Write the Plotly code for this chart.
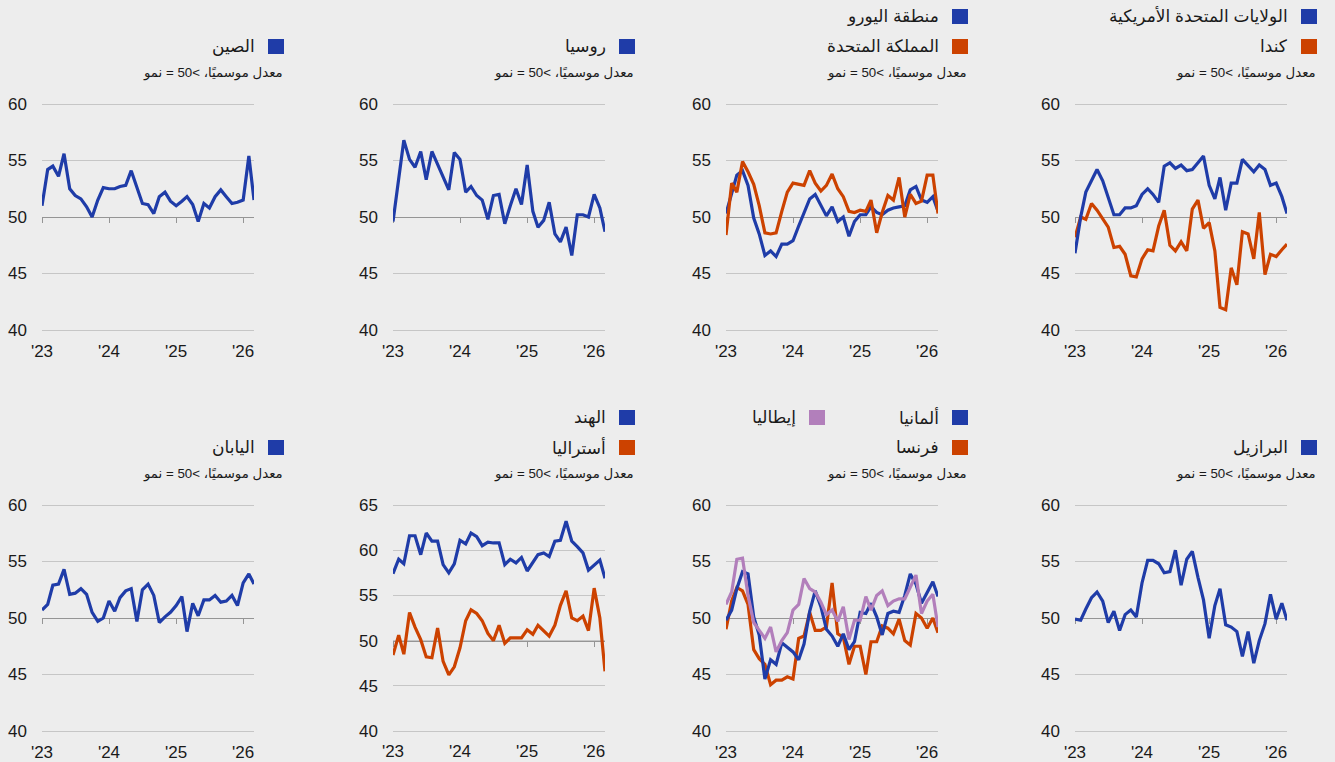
import plotly.graph_objects as go
import pandas as pd

# ---------------- data (monthly, Jan 2023 - Mar 2026) ----------------
months = pd.date_range("2023-01-01", "2026-03-01", freq="MS")
year_ticks = ["2023-01-01", "2024-01-01", "2025-01-01", "2026-01-01"]
year_labels = ["'23", "'24", "'25", "'26"]

us = [46.8, 50.0, 52.2, 53.2, 54.2, 53.2, 51.8, 50.2, 50.2, 50.8, 50.8, 51.0, 52.0,
      52.5, 52.0, 51.3, 54.5, 54.8, 54.3, 54.6, 54.1, 54.2, 54.8, 55.4, 52.8, 51.6,
      53.5, 50.6, 53.0, 53.0, 55.1, 54.6, 54.0, 54.6, 54.2, 52.8, 53.0, 51.8, 50.3]
canada = [48.2, 50.0, 49.8, 51.2, 50.6, 49.8, 49.1, 47.3, 47.4, 46.7, 44.8, 44.7, 46.3,
          47.1, 47.0, 49.2, 50.6, 47.5, 47.0, 47.8, 47.0, 50.7, 51.5, 49.0, 49.5, 47.0,
          42.0, 41.8, 45.5, 44.0, 48.7, 48.5, 46.3, 50.4, 44.9, 46.7, 46.5, 47.1, 47.6]
eurozone = [50.3, 52.0, 53.7, 54.1, 52.8, 49.9, 48.5, 46.6, 47.0, 46.5, 47.6, 47.6, 47.9,
            49.2, 50.3, 51.6, 52.0, 51.0, 50.1, 50.9, 49.6, 50.0, 48.3, 49.6, 50.2, 50.2,
            50.9, 50.4, 50.2, 50.6, 50.8, 50.9, 51.0, 52.4, 52.7, 51.5, 51.3, 51.8, 50.5]
uk = [48.4, 53.0, 52.2, 54.9, 54.0, 52.9, 51.0, 48.6, 48.5, 48.6, 50.5, 52.2, 53.0,
      52.9, 52.8, 54.1, 53.0, 52.3, 52.8, 53.8, 52.5, 51.8, 50.5, 50.4, 50.6, 50.5,
      51.5, 48.6, 50.4, 51.9, 51.5, 53.5, 50.0, 52.0, 51.2, 51.4, 53.7, 53.7, 50.3]
russia = [49.6, 53.2, 56.8, 55.1, 54.4, 55.8, 53.3, 55.8, 54.7, 53.6, 52.4, 55.7, 55.1,
          52.2, 52.7, 51.9, 51.5, 49.8, 51.9, 52.0, 49.4, 51.0, 52.5, 51.1, 54.6, 50.5,
          49.1, 49.7, 51.3, 48.5, 47.8, 49.1, 46.6, 50.2, 50.2, 50.0, 52.0, 50.8, 48.7]
china = [51.0, 54.2, 54.5, 53.6, 55.6, 52.5, 51.9, 51.6, 50.9, 50.0, 51.5, 52.6, 52.5,
         52.5, 52.7, 52.8, 54.1, 52.7, 51.2, 51.1, 50.3, 51.8, 52.2, 51.4, 51.0, 51.4,
         51.8, 51.1, 49.6, 51.2, 50.8, 51.8, 52.4, 51.8, 51.2, 51.3, 51.5, 55.4, 51.5]
brazil = [49.9, 49.8, 50.8, 51.8, 52.3, 51.5, 49.6, 50.6, 48.9, 50.3, 50.7, 50.1, 53.1,
          55.1, 55.1, 54.8, 54.0, 54.1, 56.0, 52.9, 55.2, 55.9, 53.6, 51.6, 48.2, 51.1,
          52.6, 49.4, 49.2, 48.8, 46.6, 48.8, 46.0, 48.0, 49.5, 52.1, 49.9, 51.3, 49.8]
germany = [49.8, 50.7, 52.6, 54.1, 53.9, 50.1, 48.5, 44.6, 46.3, 45.9, 47.8, 47.4, 47.0,
           46.3, 47.7, 50.6, 52.4, 51.0, 49.0, 48.4, 47.5, 48.6, 47.2, 47.9, 50.5, 50.4,
           51.3, 50.1, 48.5, 50.4, 50.6, 50.5, 52.0, 53.9, 53.0, 51.3, 52.2, 53.2, 51.9]
france = [49.0, 51.5, 52.7, 52.4, 51.2, 47.2, 46.4, 45.9, 44.1, 44.5, 44.5, 44.8, 44.6,
          48.2, 48.4, 50.5, 48.9, 48.9, 49.2, 53.1, 48.6, 48.3, 45.9, 47.5, 47.5, 45.0,
          47.9, 47.9, 49.3, 49.1, 48.6, 49.9, 48.0, 47.6, 50.4, 50.0, 49.1, 50.0, 48.7]
italy = [51.2, 52.3, 55.2, 55.3, 52.0, 49.6, 48.9, 48.2, 49.2, 47.0, 48.0, 48.7, 50.7,
         51.2, 53.5, 52.6, 52.3, 51.4, 50.3, 50.7, 49.7, 51.0, 48.1, 49.8, 49.8, 51.9,
         50.7, 52.0, 52.4, 51.1, 51.5, 51.7, 51.7, 52.8, 53.8, 50.4, 51.5, 52.1, 49.2]
india = [57.4, 59.0, 58.5, 61.6, 61.6, 59.5, 61.9, 61.0, 61.0, 58.4, 57.5, 58.5, 61.1,
         60.7, 61.9, 61.5, 60.5, 60.9, 60.8, 60.8, 58.4, 59.0, 58.6, 59.2, 57.7, 58.7,
         59.5, 59.7, 59.3, 61.0, 61.1, 63.2, 61.0, 60.4, 59.7, 57.8, 58.4, 58.9, 56.9]
australia = [48.4, 50.6, 48.5, 53.1, 51.5, 50.1, 48.2, 48.1, 51.4, 47.7, 46.2, 47.1, 49.2,
             52.2, 53.4, 53.0, 52.2, 50.8, 50.0, 51.7, 49.7, 50.3, 50.3, 50.3, 51.2, 50.7,
             51.7, 51.1, 50.5, 51.7, 53.9, 55.5, 52.5, 52.2, 52.7, 51.1, 55.8, 52.5, 46.6]
japan = [50.7, 51.2, 52.9, 53.0, 54.3, 52.1, 52.2, 52.6, 52.1, 50.5, 49.7, 50.0, 51.5,
         50.6, 51.8, 52.4, 52.6, 49.7, 52.5, 53.0, 52.0, 49.6, 50.1, 50.5, 51.1, 51.9,
         48.8, 51.3, 50.2, 51.6, 51.6, 52.0, 51.4, 51.5, 52.0, 51.1, 53.1, 53.9, 53.0]

subtitle = "معدل موسميًا، >50 = نمو"

# ---------------- styling ----------------
W, H = 1335, 762
BG = "#ededed"
BLUE = "#1f3ca8"
ORANGE = "#cc4200"
PURPLE = "#b27fbb"
GRID = "#c6c6c6"
AXIS50 = "#959595"
TXT = "#1a1a1a"
FONT = "Arial, 'Liberation Sans', 'DejaVu Sans', sans-serif"

plot_left = [42, 393, 726, 1075]
plot_w = 212
row_top = [104, 505]
plot_h = 226
YPAD = 0.15  # small pad so the edge gridlines (40 / 60) are drawn

panels = [
    (0, 0, (40, 60), [("الصين", china, BLUE, 1, 0)]),
    (0, 1, (40, 60), [("روسيا", russia, BLUE, 1, 0)]),
    (0, 2, (40, 60), [("منطقة اليورو", eurozone, BLUE, 0, 0),
                      ("المملكة المتحدة", uk, ORANGE, 1, 0)]),
    (0, 3, (40, 60), [("كندا", canada, ORANGE, 1, 0),
                      ("الولايات المتحدة الأمريكية", us, BLUE, 0, 0)]),
    (1, 0, (40, 60), [("اليابان", japan, BLUE, 1, 0)]),
    (1, 1, (40, 65), [("الهند", india, BLUE, 0, 0),
                      ("أستراليا", australia, ORANGE, 1, 0)]),
    (1, 2, (40, 60), [("فرنسا", france, ORANGE, 1, 0),
                      ("ألمانيا", germany, BLUE, 0, 0),
                      ("إيطاليا", italy, PURPLE, 0, 1)]),
    (1, 3, (40, 60), [("البرازيل", brazil, BLUE, 1, 0)]),
]


def px_x(p):
    return p / W


def px_y(p):
    return 1 - p / H


fig = go.Figure()
layout = dict(
    width=W, height=H, autosize=False,
    margin=dict(l=0, r=0, t=0, b=0, pad=0),
    paper_bgcolor=BG, plot_bgcolor=BG,
    showlegend=False,
    font=dict(family=FONT, color=TXT),
)
shapes = []
annotations = []

for i, (row, col, (lo, hi), series) in enumerate(panels, start=1):
    x0 = plot_left[col]
    x1 = x0 + plot_w
    ytop = row_top[row]
    ybot = ytop + plot_h
    ppu = plot_h / (hi - lo)
    xd = [px_x(x0), px_x(x1)]
    yd = [px_y(ybot + YPAD * ppu), px_y(ytop - YPAD * ppu)]
    pos50 = px_y(ybot - (50 - lo) * ppu)

    sfx = "" if i == 1 else str(i)
    osfx = str(i + 8)

    for name, vals, colour, lrow, lslot in series:
        fig.add_trace(go.Scatter(
            x=months, y=vals, mode="lines", name=name,
            line=dict(color=colour, width=3.2),
            xaxis=f"x{sfx}", yaxis=f"y{sfx}", hoverinfo="skip", showlegend=False))
    fig.add_trace(go.Scatter(x=[months[0]], y=[50], mode="markers",
                             marker=dict(opacity=0), xaxis=f"x{osfx}", yaxis=f"y{sfx}",
                             showlegend=False, hoverinfo="skip"))

    xr = ["2023-01-01", "2026-03-01"]
    layout[f"xaxis{sfx}"] = dict(
        type="date", domain=xd, range=xr, anchor="free", position=pos50,
        showgrid=False, zeroline=False, showline=True, linecolor=AXIS50, linewidth=1,
        ticks="outside", ticklen=5, tickwidth=1, tickcolor=AXIS50,
        tickvals=year_ticks, showticklabels=False, layer="below traces",
        automargin=False, fixedrange=True,
    )
    layout[f"xaxis{osfx}"] = dict(
        type="date", overlaying=f"x{sfx}", anchor=f"y{sfx}", side="bottom", range=xr,
        showgrid=False, zeroline=False, showline=False,
        tickvals=year_ticks, ticktext=year_labels, ticks="",
        ticklabelstandoff=7, automargin=False,
        tickfont=dict(size=17, color=TXT, family=FONT), fixedrange=True,
    )
    layout[f"yaxis{sfx}"] = dict(
        domain=yd, range=[lo - YPAD, hi + YPAD], anchor=f"x{sfx}",
        tickvals=list(range(lo, hi + 1, 5)),
        showgrid=True, gridcolor=GRID, gridwidth=1,
        zeroline=False, showline=False, ticks="",
        ticklabelstandoff=14, automargin=False,
        tickfont=dict(size=17, color=TXT, family=FONT), fixedrange=True,
    )

    # header: legend swatches + names + subtitle
    sq_right0 = x1 + 30
    hdr = 0 if row == 0 else 401
    for name, vals, colour, lrow, lslot in series:
        sq_r = sq_right0 - 143 * lslot
        cy = hdr + (16.5 if lrow == 0 else 46.5)
        shapes.append(dict(type="rect", xref="paper", yref="paper",
                           x0=px_x(sq_r - 16), x1=px_x(sq_r),
                           y0=px_y(cy + 7.5), y1=px_y(cy - 7.5),
                           fillcolor=colour, line=dict(width=0)))
        annotations.append(dict(xref="paper", yref="paper",
                                x=px_x(sq_r - 27), y=px_y(cy),
                                xanchor="right", yanchor="middle",
                                text=name, showarrow=False,
                                font=dict(size=17, color=TXT, family=FONT)))
    annotations.append(dict(xref="paper", yref="paper",
                            x=px_x(sq_right0 + 1), y=px_y(hdr + 73),
                            xanchor="right", yanchor="middle",
                            text=subtitle, showarrow=False,
                            font=dict(size=13.3, color=TXT, family=FONT)))

layout["shapes"] = shapes
layout["annotations"] = annotations
fig.update_layout(**layout)
fig.write_html("out.html", config={"responsive": False, "displayModeBar": False},
               post_script="document.body.style.margin='0';document.body.style.overflow='hidden';")
